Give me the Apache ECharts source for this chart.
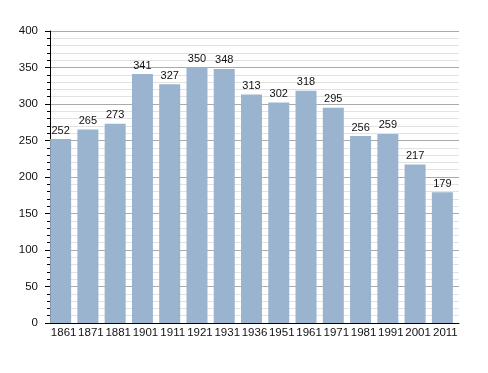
<!DOCTYPE html>
<html><head><meta charset="utf-8">
<script src="https://cdn.jsdelivr.net/npm/echarts@6/dist/echarts.min.js"></script>
<style>html,body{margin:0;padding:0;background:#fff}#c{width:488px;height:373px}</style>
</head><body><div id="c"></div>
<script>
const years = ['1861','1871','1881','1901','1911','1921','1931','1936','1951','1961','1971','1981','1991','2001','2011'];
const population = [252,265,273,341,327,350,348,313,302,318,295,256,259,217,179];
const yTicks = [0,50,100,150,200,250,300,350,400];

const chart = echarts.init(document.getElementById('c'), null, {renderer:'canvas'});
const font = '"Liberation Sans Narrow", "Liberation Sans", Arial, sans-serif';
chart.setOption({
  animation:false,
  backgroundColor:'#fff',
  grid:{left:50,right:29,top:31,bottom:50,containLabel:false},
  xAxis:{
    type:'category', data:years,
    axisLine:{show:true,lineStyle:{color:'#000',width:1}},
    axisTick:{show:false},
    axisLabel:{color:'#111',fontSize:11.5,fontFamily:font,margin:4,interval:0},
    splitLine:{show:false}
  },
  yAxis:{
    type:'value', min:yTicks[0], max:yTicks[yTicks.length-1], interval:50,
    axisLine:{show:true,lineStyle:{color:'#000',width:1}},
    axisTick:{show:true,length:5,lineStyle:{color:'#000'}},
    minorTick:{show:true,splitNumber:5,length:3,lineStyle:{color:'#000'}},
    axisLabel:{color:'#111',fontSize:11.5,fontFamily:font,margin:12},
    splitLine:{show:true,lineStyle:{color:'#aaaaaa',width:1}},
    minorSplitLine:{show:true,lineStyle:{color:'#e2e2e2',width:1}}
  },
  series:[{
    type:'bar', data:population, barWidth:21, barGap:0,
    itemStyle:{color:'#9ab3ce'},
    label:{show:true,position:'top',distance:3,color:'#111',fontSize:11,fontFamily:font}
  },{
    type:'bar', data:population.map(()=>null), barWidth:6, silent:true,
    itemStyle:{color:'transparent'}
  }]
});
</script></body></html>
